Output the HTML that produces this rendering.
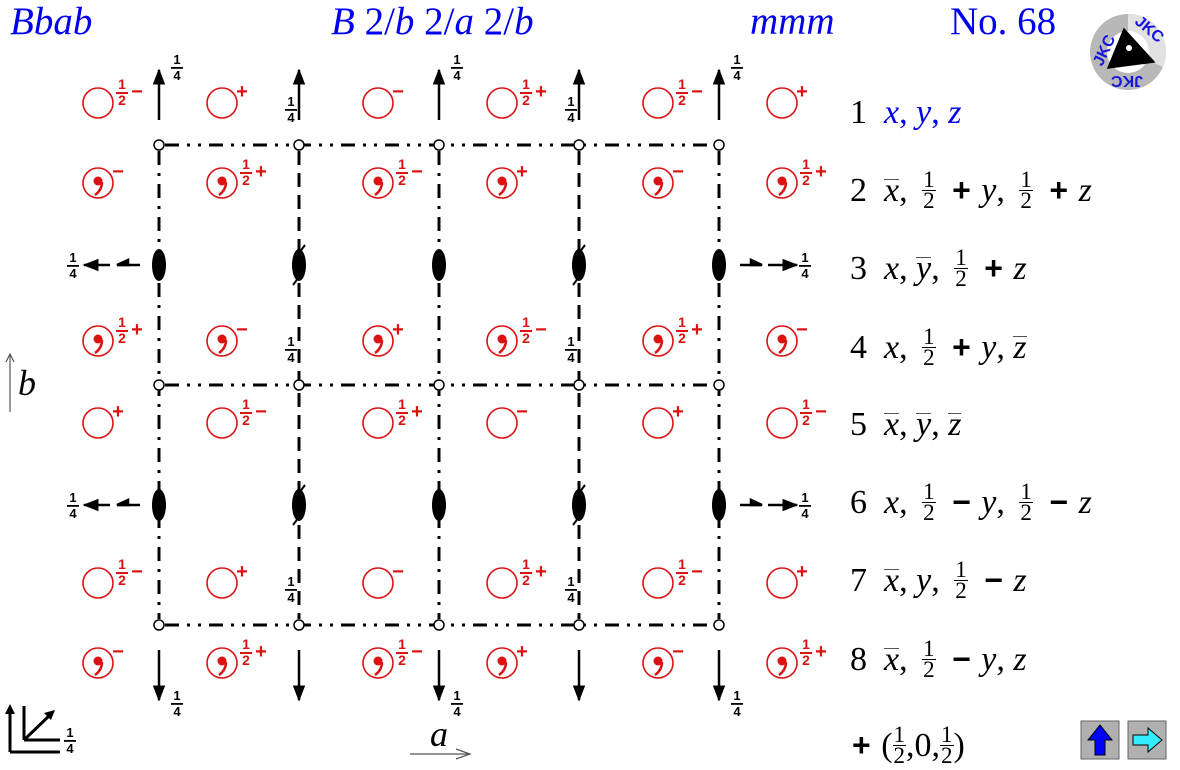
<!DOCTYPE html>
<html><head><meta charset="utf-8"><style>
body{margin:0;width:1180px;height:770px;background:#fff;overflow:hidden;position:relative;font-family:"Liberation Serif",serif}
svg{position:absolute;left:0;top:0}
.ln{position:absolute;left:850px;font-size:34px;white-space:nowrap;line-height:36px}
.ln i{font-style:italic}
.fr{display:inline-block;vertical-align:middle;font-size:23px;line-height:20px;text-align:center;margin:0 6px;position:relative;top:-3px}
.fr span{display:block}
.fr span:first-child{border-bottom:1px solid #000;padding:0 1px}
.ob{display:inline-block;border-top:1.5px solid #555;line-height:22px;padding-top:0}
.pl{font-family:"Liberation Sans",sans-serif;font-weight:bold;font-size:32px;margin:0 2px}
.hd{position:absolute;top:-1px;font-size:39px;color:#0000ee;line-height:46px}
</style></head><body>
<div class="hd" style="left:10px"><i>Bbab</i></div>
<div class="hd" style="left:331px"><i>B</i> 2/<i>b</i> 2/<i>a</i> 2/<i>b</i></div>
<div class="hd" style="left:750px"><i>mmm</i></div>
<div class="hd" style="left:950px">No. 68</div>

<div class="ln" style="top:95px">1&nbsp;&nbsp;<i style="color:#0000ee">x</i><span style="color:#0000ee">, </span><i style="color:#0000ee">y</i><span style="color:#0000ee">, </span><i style="color:#0000ee">z</i></div>
<div class="ln" style="top:172px">2&nbsp;&nbsp;<i class="ob">x</i>, <span class="fr"><span>1</span><span>2</span></span> <span class="pl">+</span> <i>y</i>, <span class="fr"><span>1</span><span>2</span></span> <span class="pl">+</span> <i>z</i></div>
<div class="ln" style="top:250px">3&nbsp;&nbsp;<i>x</i>, <i class="ob">y</i>, <span class="fr"><span>1</span><span>2</span></span> <span class="pl">+</span> <i>z</i></div>
<div class="ln" style="top:329px">4&nbsp;&nbsp;<i>x</i>, <span class="fr"><span>1</span><span>2</span></span> <span class="pl">+</span> <i>y</i>, <i class="ob">z</i></div>
<div class="ln" style="top:407px">5&nbsp;&nbsp;<i class="ob">x</i>, <i class="ob">y</i>, <i class="ob">z</i></div>
<div class="ln" style="top:484px">6&nbsp;&nbsp;<i>x</i>, <span class="fr"><span>1</span><span>2</span></span> <span class="pl">−</span> <i>y</i>, <span class="fr"><span>1</span><span>2</span></span> <span class="pl">−</span> <i>z</i></div>
<div class="ln" style="top:562px">7&nbsp;&nbsp;<i class="ob">x</i>, <i>y</i>, <span class="fr"><span>1</span><span>2</span></span> <span class="pl">−</span> <i>z</i></div>
<div class="ln" style="top:641px">8&nbsp;&nbsp;<i class="ob">x</i>, <span class="fr"><span>1</span><span>2</span></span> <span class="pl">−</span> <i>y</i>, <i>z</i></div>
<div class="ln" style="top:727px"><span class="pl">+</span> (<span class="fr" style="margin:0"><span>1</span><span>2</span></span>,0,<span class="fr" style="margin:0"><span>1</span><span>2</span></span>)</div>

<svg width="1180" height="770" viewBox="0 0 1180 770">
<defs>
<marker id="ah" viewBox="0 0 10 10" refX="9" refY="5" markerWidth="6.5" markerHeight="5" orient="auto" preserveAspectRatio="none"><path d="M0,0L10,5L0,10z" fill="#000"/></marker>
</defs>
<g stroke="#000" stroke-width="3" fill="none">
<g stroke-dasharray="14 8 3 8 3 8">
<line x1="165" y1="145" x2="713" y2="145"/><line x1="165" y1="385" x2="713" y2="385"/><line x1="165" y1="625" x2="713" y2="625"/>
</g>
<g stroke-dasharray="14 8 3 8">
<line x1="159" y1="151" x2="159" y2="619"/><line x1="439" y1="151" x2="439" y2="619"/><line x1="719" y1="151" x2="719" y2="619"/>
</g>
<g stroke-dasharray="14 8">
<line x1="299" y1="151" x2="299" y2="619"/><line x1="579" y1="151" x2="579" y2="619"/>
</g>
</g>
<g fill="#fff" stroke="#000" stroke-width="1.5">
<circle cx="159" cy="145" r="5"/><circle cx="299" cy="145" r="5"/><circle cx="439" cy="145" r="5"/><circle cx="579" cy="145" r="5"/><circle cx="719" cy="145" r="5"/>
<circle cx="159" cy="385" r="5"/><circle cx="299" cy="385" r="5"/><circle cx="439" cy="385" r="5"/><circle cx="579" cy="385" r="5"/><circle cx="719" cy="385" r="5"/>
<circle cx="159" cy="625" r="5"/><circle cx="299" cy="625" r="5"/><circle cx="439" cy="625" r="5"/><circle cx="579" cy="625" r="5"/><circle cx="719" cy="625" r="5"/>
</g>
<g fill="#000">
<ellipse cx="159" cy="265" rx="7" ry="16"/><ellipse cx="299" cy="265" rx="7" ry="16"/><ellipse cx="439" cy="265" rx="7" ry="16"/><ellipse cx="579" cy="265" rx="7" ry="16"/><ellipse cx="719" cy="265" rx="7" ry="16"/>
<ellipse cx="159" cy="505" rx="7" ry="16"/><ellipse cx="299" cy="505" rx="7" ry="16"/><ellipse cx="439" cy="505" rx="7" ry="16"/><ellipse cx="579" cy="505" rx="7" ry="16"/><ellipse cx="719" cy="505" rx="7" ry="16"/>
</g>
<g stroke="#000" stroke-width="2">
<path d="M299,253 L305,245 M299,277 L293,285 M579,253 L585,245 M579,277 L573,285 M299,493 L305,485 M299,517 L293,525 M579,493 L585,485 M579,517 L573,525"/>
</g>
<g stroke="#000" stroke-width="2.5" marker-end="url(#ah)">
<line x1="159" y1="120" x2="159" y2="70"/><line x1="299" y1="120" x2="299" y2="70"/><line x1="439" y1="120" x2="439" y2="70"/><line x1="579" y1="120" x2="579" y2="70"/><line x1="719" y1="120" x2="719" y2="70"/>
<line x1="159" y1="650" x2="159" y2="700"/><line x1="299" y1="650" x2="299" y2="700"/><line x1="439" y1="650" x2="439" y2="700"/><line x1="579" y1="650" x2="579" y2="700"/><line x1="719" y1="650" x2="719" y2="700"/>
<line x1="110" y1="265" x2="84" y2="265"/><line x1="110" y1="505" x2="84" y2="505"/>
<line x1="768" y1="265" x2="797" y2="265"/><line x1="768" y1="505" x2="797" y2="505"/>
</g>
<g stroke="#000" stroke-width="2.5" fill="#000">
<line x1="117" y1="265" x2="140" y2="265"/><path d="M117,265 L128,260 L128,265z"/>
<line x1="117" y1="505" x2="140" y2="505"/><path d="M117,505 L128,500 L128,505z"/>
<line x1="740" y1="265" x2="762" y2="265"/><path d="M762,265 L751,260 L751,265z"/>
<line x1="740" y1="505" x2="762" y2="505"/><path d="M762,505 L751,500 L751,505z"/>
</g>
<g font-family="Liberation Sans,sans-serif" font-weight="bold" font-size="13" fill="#000" text-anchor="middle">
<text x="177" y="64">1</text><rect x="171" y="67" width="12" height="1.8"/><text x="177" y="80">4</text>
<text x="457" y="64">1</text><rect x="451" y="67" width="12" height="1.8"/><text x="457" y="80">4</text>
<text x="737" y="64">1</text><rect x="731" y="67" width="12" height="1.8"/><text x="737" y="80">4</text>
<text x="291" y="106">1</text><rect x="285" y="109" width="12" height="1.8"/><text x="291" y="122">4</text>
<text x="571" y="106">1</text><rect x="565" y="109" width="12" height="1.8"/><text x="571" y="122">4</text>
<text x="291" y="346">1</text><rect x="285" y="349" width="12" height="1.8"/><text x="291" y="362">4</text>
<text x="571" y="346">1</text><rect x="565" y="349" width="12" height="1.8"/><text x="571" y="362">4</text>
<text x="291" y="586">1</text><rect x="285" y="589" width="12" height="1.8"/><text x="291" y="602">4</text>
<text x="571" y="586">1</text><rect x="565" y="589" width="12" height="1.8"/><text x="571" y="602">4</text>
<text x="177" y="700">1</text><rect x="171" y="703" width="12" height="1.8"/><text x="177" y="716">4</text>
<text x="457" y="700">1</text><rect x="451" y="703" width="12" height="1.8"/><text x="457" y="716">4</text>
<text x="737" y="700">1</text><rect x="731" y="703" width="12" height="1.8"/><text x="737" y="716">4</text>
<text x="73" y="262">1</text><rect x="67" y="265" width="12" height="1.8"/><text x="73" y="278">4</text>
<text x="73" y="502">1</text><rect x="67" y="505" width="12" height="1.8"/><text x="73" y="518">4</text>
<text x="805" y="262">1</text><rect x="799" y="265" width="12" height="1.8"/><text x="805" y="278">4</text>
<text x="805" y="502">1</text><rect x="799" y="505" width="12" height="1.8"/><text x="805" y="518">4</text>
<text x="70" y="737">1</text><rect x="64" y="740" width="12" height="1.8"/><text x="70" y="753">4</text>
</g>
<g stroke="#000" stroke-width="3" fill="none">
<path d="M10,752 L10,710 M10,752 L60,752"/><path d="M24,740 L24,706 M24,740 L60,740 M24,740 L50,715"/>
</g>
<path d="M10,704 L5,714 L15,714z M55,710 L44,713 L51,720z" fill="#000"/>
<text x="18" y="395" font-family="Liberation Serif,serif" font-style="italic" font-size="36">b</text>
<line x1="10" y1="412" x2="10" y2="355" stroke="#555" stroke-width="1.2"/><path d="M6,362 L10,354 L14,362" stroke="#555" fill="none" stroke-width="1.2"/>
<text x="430" y="746" font-family="Liberation Serif,serif" font-style="italic" font-size="36">a</text>
<line x1="410" y1="754" x2="470" y2="754" stroke="#555" stroke-width="1.2"/><path d="M456,749 L470,754 L456,759" stroke="#555" fill="none" stroke-width="1.2"/>

<g stroke="#dd1111" stroke-width="1.6" fill="none">
<circle cx="98" cy="103" r="15"/><circle cx="222" cy="103" r="15"/><circle cx="378" cy="103" r="15"/><circle cx="502" cy="103" r="15"/><circle cx="658" cy="103" r="15"/><circle cx="782" cy="103" r="15"/>
<circle cx="98" cy="183" r="15"/><circle cx="222" cy="183" r="15"/><circle cx="378" cy="183" r="15"/><circle cx="502" cy="183" r="15"/><circle cx="658" cy="183" r="15"/><circle cx="782" cy="183" r="15"/>
<circle cx="98" cy="341" r="15"/><circle cx="222" cy="341" r="15"/><circle cx="378" cy="341" r="15"/><circle cx="502" cy="341" r="15"/><circle cx="658" cy="341" r="15"/><circle cx="782" cy="341" r="15"/>
<circle cx="98" cy="423" r="15"/><circle cx="222" cy="423" r="15"/><circle cx="378" cy="423" r="15"/><circle cx="502" cy="423" r="15"/><circle cx="658" cy="423" r="15"/><circle cx="782" cy="423" r="15"/>
<circle cx="98" cy="583" r="15"/><circle cx="222" cy="583" r="15"/><circle cx="378" cy="583" r="15"/><circle cx="502" cy="583" r="15"/><circle cx="658" cy="583" r="15"/><circle cx="782" cy="583" r="15"/>
<circle cx="98" cy="663" r="15"/><circle cx="222" cy="663" r="15"/><circle cx="378" cy="663" r="15"/><circle cx="502" cy="663" r="15"/><circle cx="658" cy="663" r="15"/><circle cx="782" cy="663" r="15"/>
</g>
<g fill="#dd1111">
<circle cx="98" cy="181" r="4.5"/><circle cx="222" cy="181" r="4.5"/><circle cx="378" cy="181" r="4.5"/><circle cx="502" cy="181" r="4.5"/><circle cx="658" cy="181" r="4.5"/><circle cx="782" cy="181" r="4.5"/>
<circle cx="98" cy="339" r="4.5"/><circle cx="222" cy="339" r="4.5"/><circle cx="378" cy="339" r="4.5"/><circle cx="502" cy="339" r="4.5"/><circle cx="658" cy="339" r="4.5"/><circle cx="782" cy="339" r="4.5"/>
<circle cx="98" cy="661" r="4.5"/><circle cx="222" cy="661" r="4.5"/><circle cx="378" cy="661" r="4.5"/><circle cx="502" cy="661" r="4.5"/><circle cx="658" cy="661" r="4.5"/><circle cx="782" cy="661" r="4.5"/>
</g>
<g stroke="#dd1111" stroke-width="2.5" fill="none">
<path d="M102,182 Q102,190 95,195 M226,182 Q226,190 219,195 M382,182 Q382,190 375,195 M506,182 Q506,190 499,195 M662,182 Q662,190 655,195 M786,182 Q786,190 779,195"/>
<path d="M102,340 Q102,348 95,353 M226,340 Q226,348 219,353 M382,340 Q382,348 375,353 M506,340 Q506,348 499,353 M662,340 Q662,348 655,353 M786,340 Q786,348 779,353"/>
<path d="M102,662 Q102,670 95,675 M226,662 Q226,670 219,675 M382,662 Q382,670 375,675 M506,662 Q506,670 499,675 M662,662 Q662,670 655,675 M786,662 Q786,670 779,675"/>
</g>

<g font-family="Liberation Sans,sans-serif" font-weight="bold" fill="#dd1111" font-size="14" text-anchor="middle">
<text x="122" y="89">1</text><rect x="116" y="92" width="12" height="2"/><text x="122" y="105">2</text><text x="137" y="98" font-size="20">−</text>
<text x="242" y="98" font-size="20">+</text>
<text x="398" y="98" font-size="20">−</text>
<text x="526" y="89">1</text><rect x="520" y="92" width="12" height="2"/><text x="526" y="105">2</text><text x="541" y="98" font-size="20">+</text>
<text x="682" y="89">1</text><rect x="676" y="92" width="12" height="2"/><text x="682" y="105">2</text><text x="697" y="98" font-size="20">−</text>
<text x="802" y="98" font-size="20">+</text>

<text x="118" y="178" font-size="20">−</text>
<text x="246" y="169">1</text><rect x="240" y="172" width="12" height="2"/><text x="246" y="185">2</text><text x="261" y="178" font-size="20">+</text>
<text x="402" y="169">1</text><rect x="396" y="172" width="12" height="2"/><text x="402" y="185">2</text><text x="417" y="178" font-size="20">−</text>
<text x="522" y="178" font-size="20">+</text>
<text x="678" y="178" font-size="20">−</text>
<text x="806" y="169">1</text><rect x="800" y="172" width="12" height="2"/><text x="806" y="185">2</text><text x="821" y="178" font-size="20">+</text>

<text x="122" y="327">1</text><rect x="116" y="330" width="12" height="2"/><text x="122" y="343">2</text><text x="137" y="336" font-size="20">+</text>
<text x="242" y="336" font-size="20">−</text>
<text x="398" y="336" font-size="20">+</text>
<text x="526" y="327">1</text><rect x="520" y="330" width="12" height="2"/><text x="526" y="343">2</text><text x="541" y="336" font-size="20">−</text>
<text x="682" y="327">1</text><rect x="676" y="330" width="12" height="2"/><text x="682" y="343">2</text><text x="697" y="336" font-size="20">+</text>
<text x="802" y="336" font-size="20">−</text>

<text x="118" y="418" font-size="20">+</text>
<text x="246" y="409">1</text><rect x="240" y="412" width="12" height="2"/><text x="246" y="425">2</text><text x="261" y="418" font-size="20">−</text>
<text x="402" y="409">1</text><rect x="396" y="412" width="12" height="2"/><text x="402" y="425">2</text><text x="417" y="418" font-size="20">+</text>
<text x="522" y="418" font-size="20">−</text>
<text x="678" y="418" font-size="20">+</text>
<text x="806" y="409">1</text><rect x="800" y="412" width="12" height="2"/><text x="806" y="425">2</text><text x="821" y="418" font-size="20">−</text>

<text x="122" y="569">1</text><rect x="116" y="572" width="12" height="2"/><text x="122" y="585">2</text><text x="137" y="578" font-size="20">−</text>
<text x="242" y="578" font-size="20">+</text>
<text x="398" y="578" font-size="20">−</text>
<text x="526" y="569">1</text><rect x="520" y="572" width="12" height="2"/><text x="526" y="585">2</text><text x="541" y="578" font-size="20">+</text>
<text x="682" y="569">1</text><rect x="676" y="572" width="12" height="2"/><text x="682" y="585">2</text><text x="697" y="578" font-size="20">−</text>
<text x="802" y="578" font-size="20">+</text>

<text x="118" y="658" font-size="20">−</text>
<text x="246" y="649">1</text><rect x="240" y="652" width="12" height="2"/><text x="246" y="665">2</text><text x="261" y="658" font-size="20">+</text>
<text x="402" y="649">1</text><rect x="396" y="652" width="12" height="2"/><text x="402" y="665">2</text><text x="417" y="658" font-size="20">−</text>
<text x="522" y="658" font-size="20">+</text>
<text x="678" y="658" font-size="20">−</text>
<text x="806" y="649">1</text><rect x="800" y="652" width="12" height="2"/><text x="806" y="665">2</text><text x="821" y="658" font-size="20">+</text>
</g>

<circle cx="1128" cy="52" r="38" fill="#b8b8b8"/>
<path d="M1128,14 A38,38 0 0 1 1163,67 L1128,52z" fill="#e2e2e2"/>
<circle cx="1128" cy="52" r="21" fill="#fff"/>
<path d="M1124,29 L1108,68 L1154,62 z" fill="#000" stroke="#000" stroke-width="1.5"/>
<circle cx="1129" cy="48" r="3" fill="#fff"/>
<g font-family="Liberation Sans,sans-serif" font-weight="bold" font-size="16" fill="#1515dd">
<text x="1132" y="28" transform="rotate(40 1140 28)">JKC</text>
<text x="1113" y="88" transform="rotate(180 1128 82)">JKC</text>
<text x="1090" y="62" transform="rotate(-65 1100 55)">JKC</text>
</g>
<rect x="1081" y="721" width="38" height="38" fill="#b0b0b0" stroke="#666"/>
<path d="M1100,725 L1088,740 L1095,740 L1095,755 L1105,755 L1105,740 L1112,740z" fill="#0000ff" stroke="#000"/>
<rect x="1128" y="721" width="38" height="38" fill="#b0b0b0" stroke="#666"/>
<path d="M1162,740 L1148,728 L1148,735 L1133,735 L1133,745 L1148,745 L1148,752z" fill="#33eeff" stroke="#000"/>
</svg>
</body></html>
